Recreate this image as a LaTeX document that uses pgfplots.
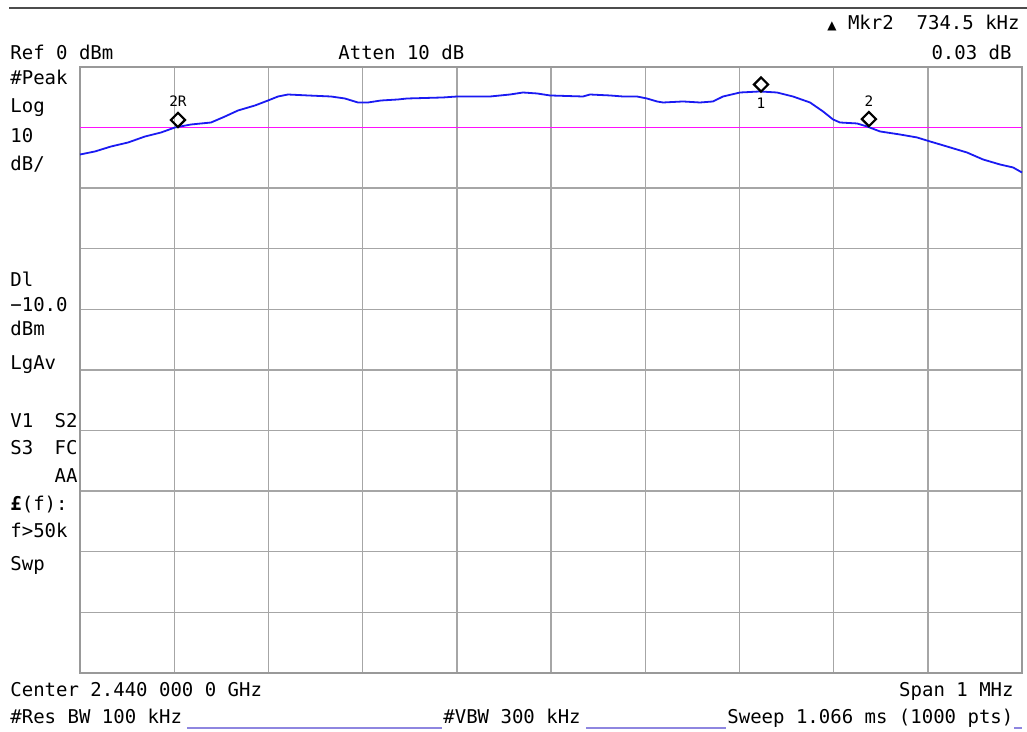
\documentclass[border=0pt]{standalone}
\usepackage{pgfplots}
\pgfplotsset{compat=1.18}
\usepackage{fontspec}
\setmainfont{DejaVu Sans Mono}
\setmonofont{DejaVu Sans Mono}
\newfontfamily\symfont{DejaVu Sans}
\definecolor{trace}{HTML}{1A1AF2}
\definecolor{dline}{HTML}{FF10FF}
\definecolor{gridc}{HTML}{A6A6A6}
\definecolor{framec}{HTML}{999999}
\definecolor{ulc}{HTML}{8E86E0}
\begin{document}
\begin{tikzpicture}
\useasboundingbox[fill=white] (0,0) rectangle (513.5pt,366pt);
\begin{axis}[at={(40pt,29.5pt)}, anchor=south west, scale only axis,
  width=471pt, height=303pt,
  xmin=-500, xmax=500, ymin=-100, ymax=0,
  xtick={-400,-300,...,400}, ytick={-90,-80,...,-10},
  xticklabels={}, yticklabels={}, major tick length=0pt,
  grid=major, grid style={gridc, line width=0.7pt},
  axis line style={framec, line width=1.4pt},
  clip=false]
% display line
\addplot[dline, line width=0.8pt] coordinates {(-500,-10) (500,-10)};
% trace
\addplot[trace, line width=0.9pt] coordinates {
(-500,-14.44) (-484.1,-13.94) (-467.1,-13.12) (-449.0,-12.46) (-431.0,-11.47)
(-414.0,-10.81) (-399.1,-9.98) (-382.2,-9.49) (-360.9,-9.16) (-346.1,-8.17)
(-332.3,-7.18) (-314.2,-6.35) (-300.4,-5.53) (-289.8,-4.87) (-279.2,-4.54)
(-257.9,-4.70) (-233.5,-4.87) (-218.7,-5.20) (-204.9,-5.86) (-194.3,-5.86)
(-180.5,-5.53) (-162.4,-5.36) (-152.9,-5.20) (-114.6,-5.03) (-99.8,-4.87)
(-82.8,-4.87) (-64.7,-4.87) (-43.5,-4.54) (-29.7,-4.21) (-14.8,-4.37)
(-1.0,-4.70) (34.0,-4.87) (41.4,-4.54) (62.6,-4.70) (76.5,-4.87)
(91.3,-4.87) (101.9,-5.20) (112.5,-5.69) (118.9,-5.86) (140.1,-5.69)
(158.2,-5.86) (172.0,-5.69) (182.6,-4.87) (200.7,-4.21) (221.9,-4.04)
(239.9,-4.21) (256.9,-4.87) (275.0,-5.86) (288.8,-7.34) (299.4,-8.66)
(306.8,-9.16) (324.9,-9.32) (335.5,-9.82) (349.3,-10.64) (370.5,-11.14)
(388.6,-11.63) (402.4,-12.29) (420.4,-13.12) (441.6,-14.11) (458.6,-15.26)
(476.7,-16.09) (490.5,-16.58) (500,-17.41)
};
% markers
\addplot[only marks, mark=square, mark size=2.5pt,
  mark options={black, line width=1.1pt, fill=white, yshift=3.5pt, rotate=45}]
  coordinates {(-396,-9.9) (223,-4.05) (337.5,-9.75)};
\node[font=\fontsize{7.2}{8}\selectfont, inner sep=0pt] at (axis cs:-396,-9.9) [yshift=13pt] {2R};
\node[font=\fontsize{7.2}{8}\selectfont, inner sep=0pt] at (axis cs:223,-4.05) [yshift=-6pt] {1};
\node[font=\fontsize{7.2}{8}\selectfont, inner sep=0pt] at (axis cs:337.5,-9.75) [yshift=12.5pt] {2};
\end{axis}
\begin{scope}[x=0.5pt, y=-0.5pt, yshift=366pt,
  every node/.style={inner sep=0pt, font=\fontsize{9.5}{11}\selectfont}]
\draw[black!70, line width=0.8pt] (9,8) -- (1027,8);
\node[anchor=base west] at (10,60) {Ref 0 dBm};
\node[anchor=base west] at (338,60) {Atten 10 dB};
\node[anchor=base east] at (1020,30) {{\symfont\fontsize{6}{6}\selectfont ▲} Mkr2\ \ 734.5 kHz};
\node[anchor=base east] at (1012,60) {0.03 dB};
\node[anchor=base west] at (10,85) {\#Peak};
\node[anchor=base west] at (10,113) {Log};
\node[anchor=base west] at (10,143) {10};
\node[anchor=base west] at (10,171) {dB/};
\node[anchor=base west] at (10,287) {Dl};
\node[anchor=base west] at (10,312) {−10.0};
\node[anchor=base west] at (10,336) {dBm};
\node[anchor=base west] at (10,370) {LgAv};
\node[anchor=base west] at (10,428) {V1};
\node[anchor=base east] at (78,428) {S2};
\node[anchor=base west] at (10,455) {S3};
\node[anchor=base east] at (78,455) {FC};
\node[anchor=base east] at (78,483) {AA};
\node[anchor=base west] at (10,511) {{\bfseries £}(f):};
\node[anchor=base west] at (10,538) {f>50k};
\node[anchor=base west] at (10,571) {Swp};
\node[anchor=base west] at (10,697) {Center 2.440 000 0 GHz};
\node[anchor=base east] at (1014,697) {Span 1 MHz};
\node[anchor=base west] at (10,724) {\#Res BW 100 kHz};
\node[anchor=base west] at (443,724) {\#VBW 300 kHz};
\node[anchor=base west] at (727,724) {Sweep 1.066 ms (1000 pts)};
\draw[ulc, line width=0.8pt] (187,728) -- (442,728);
\draw[ulc, line width=0.8pt] (586,728) -- (726,728);
\draw[ulc, line width=0.8pt] (1014,728) -- (1022,728);
\end{scope}
\end{tikzpicture}
\end{document}
